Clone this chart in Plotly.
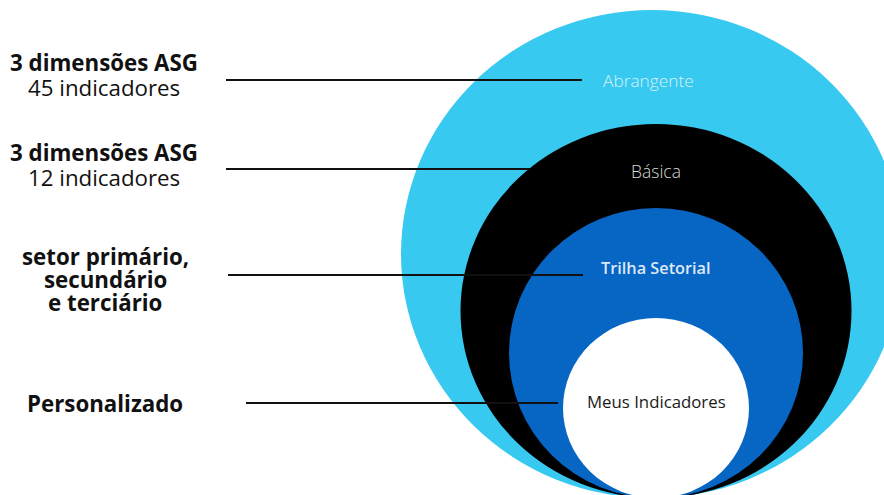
import plotly.graph_objects as go

# ---- data ----
levels = ["Abrangente", "Básica", "Trilha Setorial", "Meus Indicadores"]
ring_colors = ["#38C9F0", "#000000", "#0765C3", "#FFFFFF"]
label_colors = ["#D7F1FB", "#DADADA", "#DCE8F7", "#1A1A1A"]
# relative ellipse extents of each nested level (radius x, radius y)
radius_x = [251, 195.5, 147, 93]
radius_y = [244, 187, 145, 90]
# descriptions on the left, line by line: (text, bold)
descriptions = [
    [("3 dimensões ASG", True), ("45 indicadores", False)],
    [("3 dimensões ASG", True), ("12 indicadores", False)],
    [("setor primário,", True), ("secundário", True), ("e terciário", True)],
    [("Personalizado", True)],
]

W, H = 884, 495
cx = 656          # common center x of nested ellipses
bottom = 498      # common bottom (tangent) of ellipses

fig = go.Figure()
fig.add_trace(go.Scatter(x=[0, W], y=[0, H], mode="markers",
                         marker=dict(opacity=0), hoverinfo="skip", showlegend=False))

shapes = []
annotations = []
for i, (rx, ry) in enumerate(zip(radius_x, radius_y)):
    cxi = cx - (4 if i == 0 else 0)
    cy = bottom - ry
    shapes.append(dict(type="circle", xref="x", yref="y",
                       x0=cxi - rx, x1=cxi + rx, y0=cy - ry, y1=cy + ry,
                       fillcolor=ring_colors[i], line=dict(width=0), layer="below"))

# label positions inside each ring
label_y = [80, 171, 268, 401]
label_x = [648, 656, 656, 656]
label_size = [17.3, 17.5, 16.3, 16.8]
label_weight = [300, 300, 600, 400]
for i, name in enumerate(levels):
    annotations.append(dict(x=label_x[i], y=label_y[i], xref="x", yref="y",
                            text=name, showarrow=False,
                            font=dict(family="Open Sans", size=label_size[i],
                                      color=label_colors[i], weight=label_weight[i]),
                            xanchor="center", yanchor="middle"))

# connector lines
line_y = [80, 169, 275, 403]
line_x0 = [226, 226, 228, 246]
line_x1 = [582, 530, 583, 558]
for y, x0, x1 in zip(line_y, line_x0, line_x1):
    shapes.append(dict(type="line", xref="x", yref="y", x0=x0, x1=x1, y0=y, y1=y,
                       line=dict(color="#111111", width=2), layer="above"))

# left descriptions
desc_first_y = [62, 152, 256, 403]
desc_step = [25, 25, 23, 0]
desc_x = [104, 104, 105, 105]
for k, lines in enumerate(descriptions):
    for j, (t, bold) in enumerate(lines):
        annotations.append(dict(
            x=desc_x[k], y=desc_first_y[k] + j * desc_step[k], xref="x", yref="y",
            text=t, showarrow=False,
            font=dict(family="Open Sans", size=22.3, color="#111111",
                      weight=700 if bold else 400),
            xanchor="center", yanchor="middle"))

fig.update_layout(
    width=W, height=H, margin=dict(l=0, r=0, t=0, b=0),
    paper_bgcolor="white", plot_bgcolor="white",
    xaxis=dict(range=[0, W], visible=False, fixedrange=True),
    yaxis=dict(range=[H, 0], visible=False, fixedrange=True),
    shapes=shapes, annotations=annotations, showlegend=False,
)
fig.write_html("out.html", config={"displayModeBar": False},
               post_script="document.body.style.margin='0';document.body.style.overflow='hidden';")
